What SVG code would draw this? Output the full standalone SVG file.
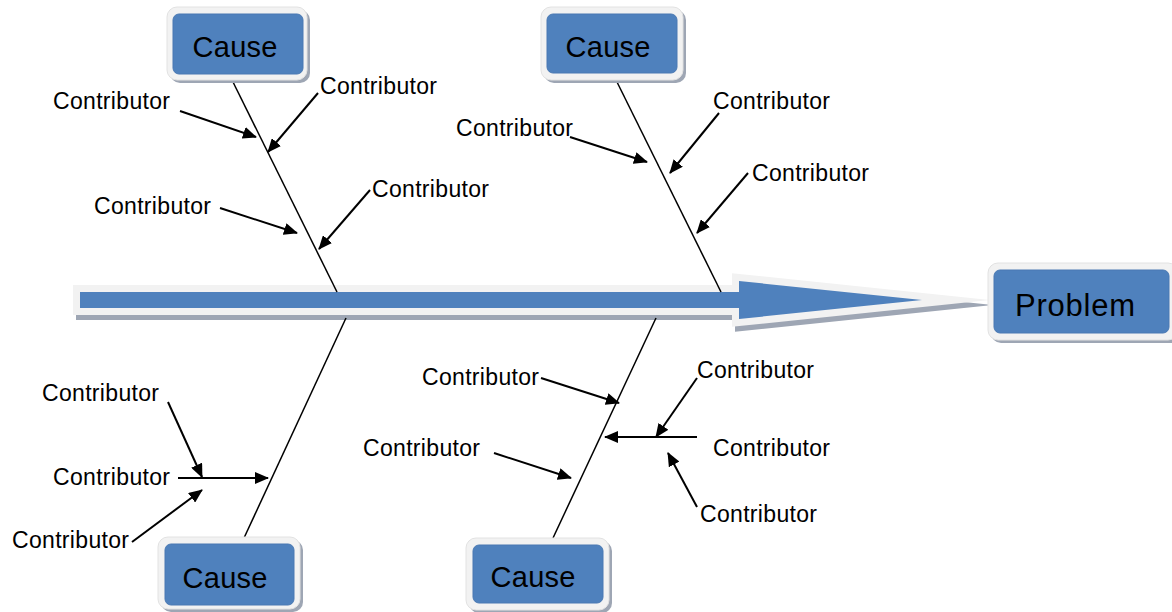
<svg xmlns="http://www.w3.org/2000/svg" width="1172" height="612" viewBox="0 0 1172 612">
  <style>
    .bg { fill: #ffffff; }
    .frame { fill: #f2f2f2; stroke: #e2e2e2; stroke-width: 1; }
    .shadow { fill: #9ea6b4; }
    .box { fill: #4f81bd; stroke: #4a79b3; stroke-width: 1; }
    .title { font-family: "Liberation Sans", Arial, sans-serif; fill: #000000; text-anchor: middle; }
    .cause { font-size: 29px; }
    .problem { font-size: 31px; }
    .label { font-family: "Liberation Sans", Arial, sans-serif; font-size: 23px; fill: #000000; }
    .bone { stroke: #000000; stroke-width: 1.5; fill: none; }
    .rib { stroke: #000000; stroke-width: 2; fill: none; marker-end: url(#head); }
  </style>
  <defs>
    <marker id="head" markerUnits="userSpaceOnUse" markerWidth="14" markerHeight="12" refX="13" refY="6" orient="auto">
      <path d="M0,0 L14,6 L0,12 Z" fill="#000000"/>
    </marker>
    <path id="spinePath" d="M80,292 L739,292 L739,281 L922,300 L739,319 L739,308 L80,308 Z"/>
  </defs>

  <rect class="bg" x="0" y="0" width="1172" height="612"/>

  <!-- main spine: block arrow with light frame and drop shadow -->
  <g id="spine">
    <use href="#spinePath" transform="translate(3,5)" fill="#9ea6b4" stroke="#9ea6b4" stroke-width="14" stroke-linejoin="miter" stroke-miterlimit="20"/>
    <use href="#spinePath" fill="#f2f2f2" stroke="#f2f2f2" stroke-width="14" stroke-linejoin="miter" stroke-miterlimit="20"/>
    <use href="#spinePath" fill="#4f81bd"/>
  </g>

  <!-- bones and contributor arrows -->
  <g id="connectors">
    <line class="bone" x1="232" y1="80" x2="337" y2="292"/>
    <line class="bone" x1="616" y1="80" x2="721" y2="292"/>
    <line class="bone" x1="346" y1="318" x2="244" y2="538"/>
    <line class="bone" x1="656" y1="318" x2="553" y2="538"/>

    <line class="rib" x1="180" y1="111" x2="256" y2="137"/>
    <line class="rib" x1="318" y1="93" x2="268" y2="152"/>
    <line class="rib" x1="220" y1="208" x2="297" y2="233"/>
    <line class="rib" x1="370" y1="190" x2="319" y2="249"/>

    <line class="rib" x1="570" y1="137" x2="647" y2="162"/>
    <line class="rib" x1="719" y1="113" x2="670" y2="173"/>
    <line class="rib" x1="748" y1="173" x2="697" y2="233"/>

    <line class="rib" x1="168" y1="402" x2="202" y2="477"/>
    <line class="rib" x1="178" y1="478" x2="268" y2="478"/>
    <line class="rib" x1="132" y1="542" x2="202" y2="490"/>

    <line class="rib" x1="541" y1="378" x2="619" y2="403"/>
    <line class="rib" x1="494" y1="453" x2="571" y2="478"/>
    <line class="rib" x1="697" y1="437" x2="605" y2="437"/>
    <line class="rib" x1="697" y1="378" x2="656" y2="437"/>
    <line class="rib" x1="697" y1="507" x2="668" y2="453"/>
  </g>

  <!-- cause boxes -->
  <g id="cause-top-left">
    <rect class="shadow" x="170" y="10" width="140" height="73" rx="10"/>
    <rect class="frame" x="167" y="7" width="140" height="73" rx="10"/>
    <rect class="box" x="173" y="14" width="130" height="60" rx="6"/>
    <text class="title cause" x="235" y="57" textLength="85">Cause</text>
  </g>
  <g id="cause-top-right">
    <rect class="shadow" x="544" y="10" width="142" height="73" rx="10"/>
    <rect class="frame" x="541" y="7" width="142" height="73" rx="10"/>
    <rect class="box" x="547" y="14" width="130" height="59" rx="6"/>
    <text class="title cause" x="608" y="57" textLength="85">Cause</text>
  </g>
  <g id="cause-bottom-left">
    <rect class="shadow" x="161" y="540" width="142" height="72" rx="10"/>
    <rect class="frame" x="158" y="537" width="142" height="72" rx="10"/>
    <rect class="box" x="165" y="544" width="129" height="61" rx="6"/>
    <text class="title cause" x="225" y="588" textLength="85">Cause</text>
  </g>
  <g id="cause-bottom-middle">
    <rect class="shadow" x="469" y="541" width="143" height="72" rx="10"/>
    <rect class="frame" x="466" y="538" width="143" height="72" rx="10"/>
    <rect class="box" x="473" y="545" width="130" height="58" rx="6"/>
    <text class="title cause" x="533" y="587" textLength="85">Cause</text>
  </g>

  <!-- effect box -->
  <g id="problem">
    <rect class="shadow" x="991" y="266" width="190" height="77" rx="10"/>
    <rect class="frame" x="988" y="263" width="190" height="77" rx="10"/>
    <rect class="box" x="994" y="270" width="175" height="63" rx="6"/>
    <text class="title problem" x="1075" y="316" textLength="120">Problem</text>
  </g>

  <!-- contributor labels -->
  <g id="contributors">
    <text class="label" x="53" y="109" textLength="117">Contributor</text>
    <text class="label" x="320" y="94" textLength="117">Contributor</text>
    <text class="label" x="94" y="214" textLength="117">Contributor</text>
    <text class="label" x="372" y="197" textLength="117">Contributor</text>
    <text class="label" x="456" y="136" textLength="117">Contributor</text>
    <text class="label" x="713" y="109" textLength="117">Contributor</text>
    <text class="label" x="752" y="181" textLength="117">Contributor</text>
    <text class="label" x="42" y="401" textLength="117">Contributor</text>
    <text class="label" x="53" y="485" textLength="117">Contributor</text>
    <text class="label" x="12" y="548" textLength="117">Contributor</text>
    <text class="label" x="422" y="385" textLength="117">Contributor</text>
    <text class="label" x="363" y="456" textLength="117">Contributor</text>
    <text class="label" x="697" y="378" textLength="117">Contributor</text>
    <text class="label" x="713" y="456" textLength="117">Contributor</text>
    <text class="label" x="700" y="522" textLength="117">Contributor</text>
  </g>
</svg>
